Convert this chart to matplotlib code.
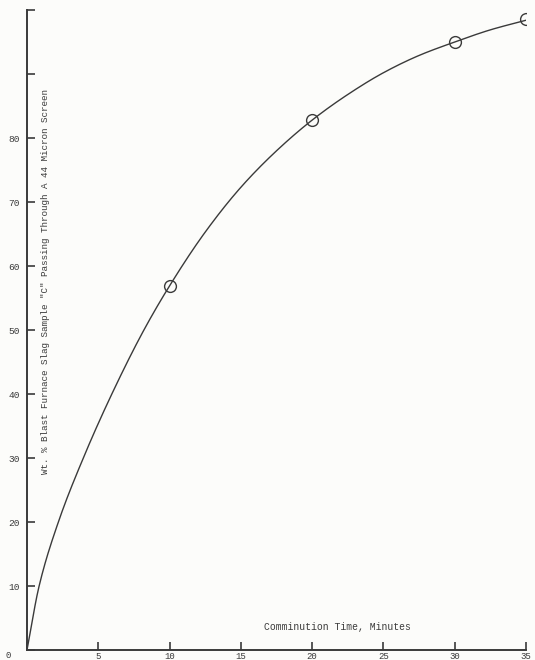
import matplotlib
matplotlib.use("Agg")
import matplotlib.pyplot as plt
import numpy as np

# Measured points: comminution time (min) vs wt.% passing 44 micron screen
time_min = [10, 20, 30, 35]
pct_passing = [56.9, 82.8, 95.0, 98.6]

# Hand-drawn smooth curve through the measurements
curve_t = [0, 0.85, 2.2, 3.95, 5.95, 8.2, 10, 12.5, 15, 17.5, 20, 22.5, 25, 27.5, 30, 32.5, 35]
curve_y = [0, 10, 20, 30, 40, 50, 56.9, 65.3, 72.3, 78.0, 82.8, 86.8, 90.2, 92.9, 95.0, 96.9, 98.4]

x_ticks = [0, 5, 10, 15, 20, 25, 30, 35]
x_ticklabels = ["", "5", "10", "15", "20", "25", "30", "35"]
y_ticks = [0, 10, 20, 30, 40, 50, 60, 70, 80, 90, 100]
y_ticklabels = ["", "10", "20", "30", "40", "50", "60", "70", "80", "", ""]

ink = "#3a3a3a"
paper = "#fcfcfa"
mono = ["Liberation Mono", "DejaVu Sans Mono"]


def pchip(x, y, xs):
    """Monotone piecewise-cubic Hermite curve through (x, y)."""
    x = np.asarray(x, float)
    y = np.asarray(y, float)
    h = np.diff(x)
    d = np.diff(y) / h
    m = np.zeros_like(y)
    for i in range(1, len(x) - 1):
        if d[i - 1] * d[i] > 0:
            w1 = 2 * h[i] + h[i - 1]
            w2 = h[i] + 2 * h[i - 1]
            m[i] = (w1 + w2) / (w1 / d[i - 1] + w2 / d[i])
    m[0] = d[0]
    m[-1] = d[-1]
    idx = np.clip(np.searchsorted(x, xs) - 1, 0, len(x) - 2)
    t = (xs - x[idx]) / h[idx]
    h00 = 2 * t**3 - 3 * t**2 + 1
    h10 = t**3 - 2 * t**2 + t
    h01 = -2 * t**3 + 3 * t**2
    h11 = t**3 - t**2
    return (h00 * y[idx] + h10 * h[idx] * m[idx]
            + h01 * y[idx + 1] + h11 * h[idx] * m[idx + 1])


fig = plt.figure(figsize=(5.35, 6.6), dpi=100, facecolor=paper)
ax = fig.add_axes([27 / 535, 10 / 660, (526 - 27) / 535, 640 / 660])
ax.set_facecolor(paper)

ts = np.linspace(curve_t[0], curve_t[-1], 500)
ax.plot(ts, pchip(curve_t, curve_y, ts), color=ink, lw=1.0,
        solid_capstyle="round")
ax.plot(time_min, pct_passing, linestyle="none", marker="o", ms=8.5,
        mfc="none", mec=ink, mew=1.0)

ax.set_xlim(0, 35)
ax.set_ylim(0, 100)
for side in ("top", "right"):
    ax.spines[side].set_visible(False)
for side in ("left", "bottom"):
    ax.spines[side].set_color(ink)
    ax.spines[side].set_linewidth(1.4)

ax.set_xticks(x_ticks)
ax.set_xticklabels(x_ticklabels, fontfamily=mono, fontsize=6.5, color=ink)
ax.set_yticks(y_ticks)
ax.set_yticklabels(y_ticklabels, fontfamily=mono, fontsize=6.8, color=ink)
ax.tick_params(axis="both", direction="in", length=6, width=1.2, color=ink)
ax.tick_params(axis="x", pad=1.5)
ax.tick_params(axis="y", pad=5)

# Origin label at the lower-left corner
fig.text(8 / 535, 1 - 655 / 660, "0", fontfamily=mono, fontsize=6.5,
         color=ink, ha="center", va="center")

fig.text(337 / 535, 1 - 627 / 660, "Comminution Time, Minutes",
         fontfamily=mono, fontsize=7, color=ink, ha="center", va="center")

fig.text(46 / 535, 1 - 282 / 660,
         'Wt. % Blast Furnace Slag Sample "C" Passing Through A 44 Micron Screen',
         fontfamily=mono, fontsize=6.7, color=ink, rotation=90,
         ha="center", va="center")

fig.savefig("out.png", dpi=100, facecolor=paper)
